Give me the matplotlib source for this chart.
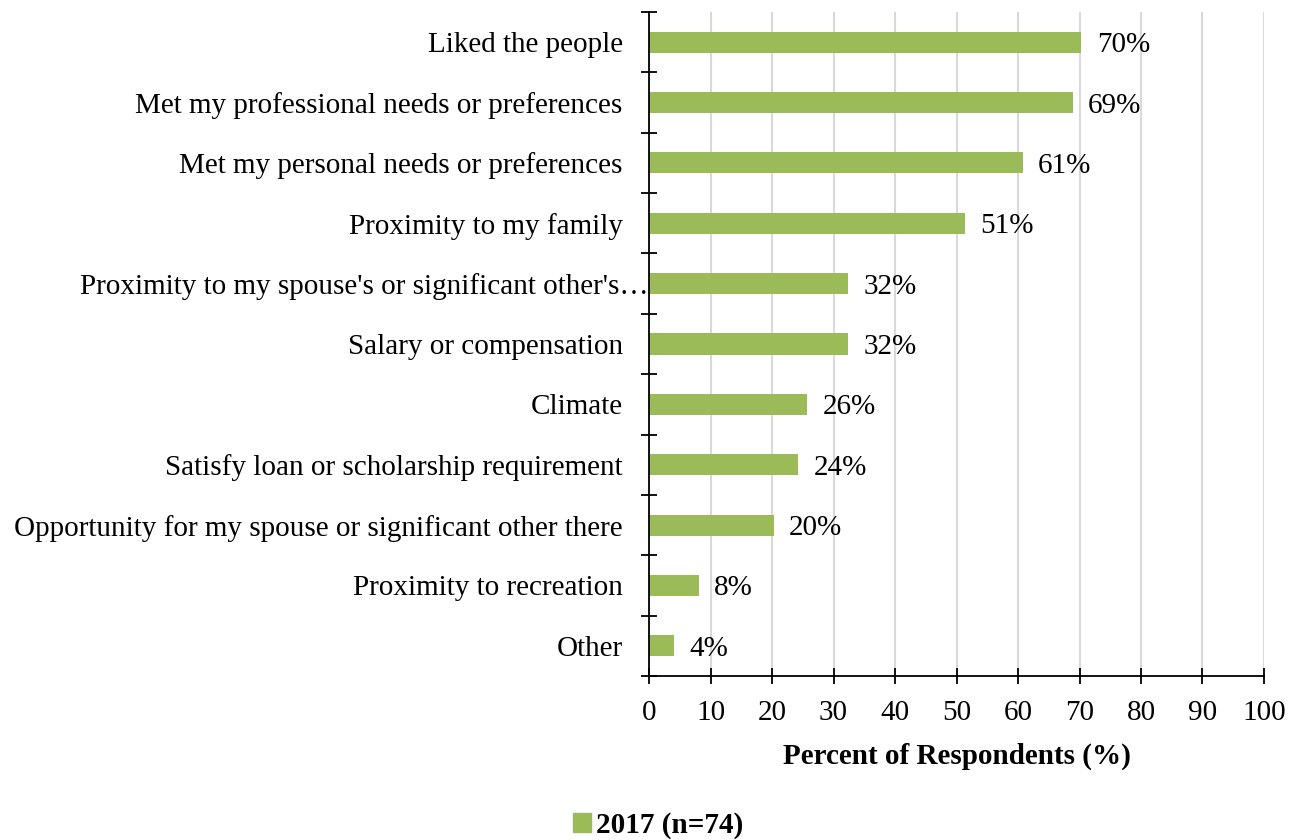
import matplotlib
matplotlib.use('Agg')
import matplotlib.pyplot as plt
from matplotlib.patches import Patch
from matplotlib.transforms import ScaledTranslation
import numpy as np

# reasons for choosing the practice location, 2017 survey (n=74)
reasons = ['Liked the people',
           'Met my professional needs or preferences',
           'Met my personal needs or preferences',
           'Proximity to my family',
           "Proximity to my spouse's or significant other's\u2026",
           'Salary or compensation',
           'Climate',
           'Satisfy loan or scholarship requirement',
           'Opportunity for my spouse or significant other there',
           'Proximity to recreation',
           'Other']
pct_2017 = [70.3, 68.9, 60.8, 51.4, 32.4, 32.4, 25.7, 24.3, 20.3, 8.1, 4.1]
series_name = '2017 (n=74)'
bar_color = '#9BBB59'

plt.rcParams['font.family'] = ['Liberation Serif', 'DejaVu Serif']
plt.rcParams['font.size'] = 21

fig = plt.figure(figsize=(12.96, 8.4), dpi=100)
ax = fig.add_axes([0.5008, 0.1952, 0.4745, 0.7905])

y = np.arange(len(reasons))
ax.barh(y, pct_2017, height=0.35, color=bar_color, zorder=3)
for yi, v in zip(y, pct_2017):
    ax.annotate('{:.0f}%'.format(v), (v, yi), xytext=(11, 0),
                textcoords='offset points', va='center_baseline', ha='left')

ax.set_ylim(len(reasons) - 0.5, -0.5)
ax.set_xlim(0, 100)
ax.set_yticks(y)
ax.set_yticklabels(reasons)
ax.set_yticks(np.arange(len(reasons) + 1) - 0.5, minor=True)
ax.tick_params(axis='y', which='major', length=0, pad=19)
ax.tick_params(axis='y', which='minor', direction='inout', length=12, width=1.3)
ax.set_xticks(np.arange(0, 101, 10))
ax.tick_params(axis='x', direction='inout', length=11, width=1.3, pad=12)

# the truncated label runs up to the axis line
long_lbl = ax.get_yticklabels()[4]
long_lbl.set_transform(long_lbl.get_transform()
                       + ScaledTranslation(0.26, 0, fig.dpi_scale_trans))

ax.grid(axis='x', color='#D9D9D9', linewidth=1.5, zorder=0)
for s in ['top', 'right']:
    ax.spines[s].set_visible(False)
for s in ['left', 'bottom']:
    ax.spines[s].set_linewidth(1.3)
    ax.spines[s].set_zorder(4)

ax.set_xlabel('Percent of Respondents (%)', fontweight='bold', labelpad=12)

fig.legend(handles=[Patch(color=bar_color, label=series_name)],
           loc='lower center', bbox_to_anchor=(0.508, -0.03), frameon=False,
           handlelength=0.6, handleheight=0.6, handletextpad=0.2,
           prop={'weight': 'bold', 'size': 21})

fig.savefig('out.png', dpi=100)
